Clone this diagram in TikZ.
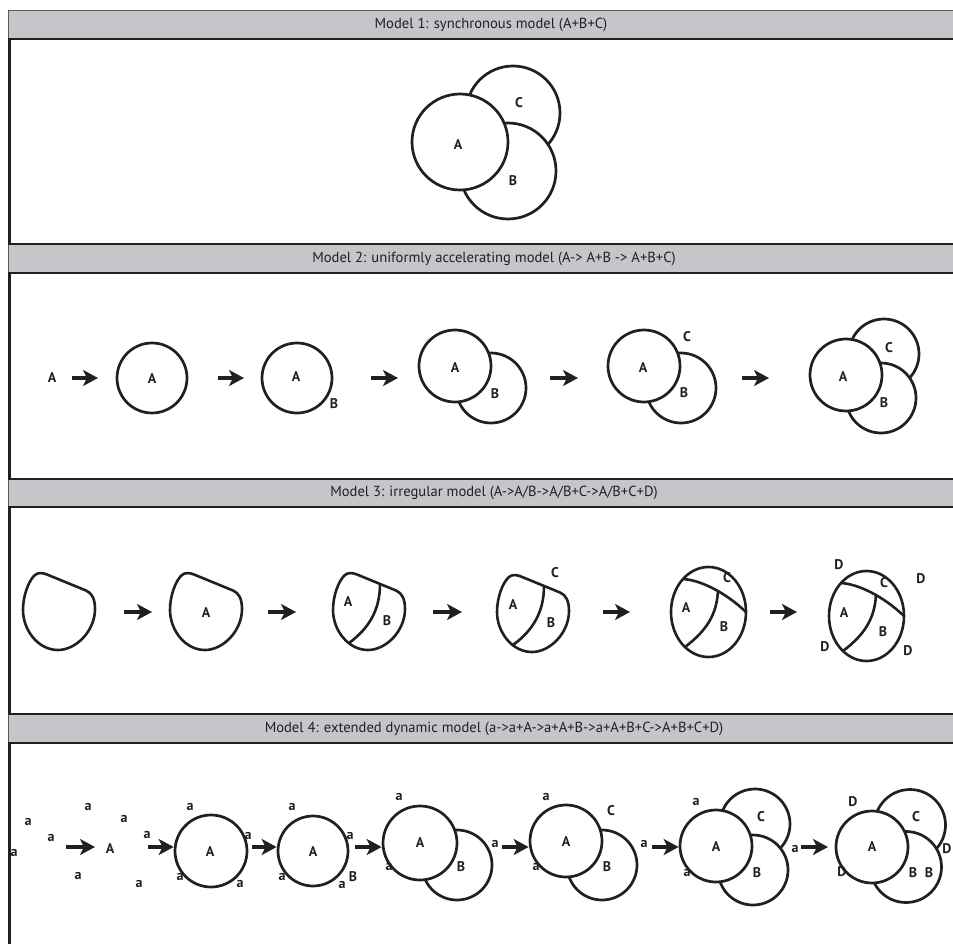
\documentclass[tikz,border=0pt]{standalone}
\usepackage{fontspec}
\setmainfont{PT Sans}
\usetikzlibrary{arrows.meta}
\definecolor{hdr}{HTML}{C5C6CA}
\definecolor{ink}{HTML}{231F20}
\tikzset{
  ring/.style={circle, draw=ink, line width=2.7pt, fill=white, inner sep=0pt},
  lbl/.style={font=\fontsize{14}{16}\selectfont\bfseries, text=ink, inner sep=0pt},
  hdrtext/.style={font=\fontsize{14.6}{16}\selectfont, text=ink, inner sep=0pt},
  arr/.style={draw=ink, line width=3.3pt, -{Stealth[length=15pt,width=16pt,inset=4pt]}},
  frameline/.style={draw=ink, line width=2.2pt},
  sideline/.style={draw=ink, line width=2.8pt},
  hdredge/.style={draw=ink!75, line width=0.9pt},
  blobline/.style={draw=ink, line width=2.6pt, fill=white, line join=round},
  divline/.style={draw=ink, line width=2.6pt},
  blob/.pic={\path[blobline] (24,1.5) -- (63,17.5) .. controls (69,20) and (72,26) .. (72,36) .. controls (72,58) and (53,77) .. (35,77) .. controls (15,77) and (0,57) .. (0,37) .. controls (0,22) and (6,7) .. (12,2) .. controls (15,-0.5) and (19,-0.5) .. (24,1.5) -- cycle;},
  blobsplit/.pic={\path[blobline] (24,1.5) -- (63,17.5) .. controls (69,20) and (72,26) .. (72,36) .. controls (72,58) and (53,77) .. (35,77) .. controls (15,77) and (0,57) .. (0,37) .. controls (0,22) and (6,7) .. (12,2) .. controls (15,-0.5) and (19,-0.5) .. (24,1.5) -- cycle;
    \draw[divline] (47,11) .. controls (47,38) and (35,56) .. (16,70);},
  blobcap/.pic={\path[blobline] (38.5,45) ellipse [x radius=37.5, y radius=45];
    \draw[divline] (13,12) .. controls (30,13) and (55,25) .. (76,45);
    \draw[divline] (48,23) .. controls (47,48) and (36,64) .. (15,80);},
}
\begin{document}
\begin{tikzpicture}[x=1pt,y=-1pt]
\useasboundingbox (0,0) rectangle (953,944);
\fill[white] (0,0) rectangle (953,944);

% header bands
\fill[hdr] (8,10) rectangle (953,39);
\fill[hdr] (8,244) rectangle (953,273);
\fill[hdr] (8,479) rectangle (953,507);
\fill[hdr] (8,714) rectangle (953,743);
\draw[hdredge] (8,10.4) -- (953,10.4);
\draw[hdredge] (8.5,10) -- (8.5,39) (8.5,244) -- (8.5,273) (8.5,479) -- (8.5,507) (8.5,714) -- (8.5,743);

\node[hdrtext] (h1) at (491,24.5) {Model 1: synchronous model (A+B+C)};
\node[hdrtext] (h2) at (494,258.5) {Model 2: uniformly accelerating model (A-> A+B -> A+B+C)};
\node[hdrtext] (h3) at (494,493) {Model 3: irregular model (A->A/B->A/B+C->A/B+C+D)};
\node[hdrtext] (h4) at (494,728.5) {Model 4: extended dynamic model (a->a+A->a+A+B->a+A+B+C->A+B+C+D)};

% ---------- Model 1 ----------
\node[ring, minimum size=94pt] (m1c) at (513,113) {};
\node[ring, minimum size=96pt] (m1b) at (508,171) {};
\node[ring, minimum size=96pt] (m1a) at (460,142) {};
\node[lbl] (m1la) at (458,145) {A};
\node[lbl] (m1lb) at (513,181) {B};
\node[lbl] (m1lc) at (519,103) {C};

% ---------- Model 2 ----------
\node[lbl] (m2l0) at (52,378) {A};
\coordinate (m2s1) at (72,378); \coordinate (m2e1) at (98,378);
\draw[arr] (m2s1) -- (m2e1);
\node[ring, minimum size=70pt] (m2c1) at (152,378) {};
\node[lbl] (m2l1) at (152,379) {A};
\coordinate (m2s2) at (218,378); \coordinate (m2e2) at (244,378);
\draw[arr] (m2s2) -- (m2e2);
\node[ring, minimum size=70pt] (m2c2) at (297,378) {};
\node[lbl] (m2l2) at (296,377) {A};
\node[lbl] (m2l2b) at (334,404) {B};
\coordinate (m2s3) at (371,378); \coordinate (m2e3) at (398,378);
\draw[arr] (m2s3) -- (m2e3);
\node[ring, minimum size=70pt] (m2c3b) at (491,388) {};
\node[ring, minimum size=72pt] (m2c3a) at (455,366) {};
\node[lbl] (m2l3a) at (455,368) {A};
\node[lbl] (m2l3b) at (495,394) {B};
\coordinate (m2s4) at (550,378); \coordinate (m2e4) at (578,378);
\draw[arr] (m2s4) -- (m2e4);
\node[ring, minimum size=70pt] (m2c4b) at (681,388) {};
\node[ring, minimum size=72pt] (m2c4a) at (644,366) {};
\node[lbl] (m2l4a) at (643,368) {A};
\node[lbl] (m2l4b) at (684,393) {B};
\node[lbl] (m2l4c) at (687,337) {C};
\coordinate (m2s5) at (742,378); \coordinate (m2e5) at (769,378);
\draw[arr] (m2s5) -- (m2e5);
\node[ring, minimum size=70pt] (m2c5c) at (884,354) {};
\node[ring, minimum size=70pt] (m2c5b) at (881,398) {};
\node[ring, minimum size=72pt] (m2c5a) at (846,375) {};
\node[lbl] (m2l5a) at (843,377) {A};
\node[lbl] (m2l5b) at (884,403) {B};
\node[lbl] (m2l5c) at (889,348) {C};

% ---------- Model 3 ----------
\pic at (23,573) {blob};
\coordinate (m3s1) at (124,612); \coordinate (m3e1) at (152,612);
\draw[arr] (m3s1) -- (m3e1);
\pic at (170,573) {blob};
\node[lbl] (m3l2a) at (206,613) {A};
\coordinate (m3s2) at (268,612); \coordinate (m3e2) at (296,612);
\draw[arr] (m3s2) -- (m3e2);
\pic at (333,573) {blobsplit};
\node[lbl] (m3l3a) at (348,602) {A};
\node[lbl] (m3l3b) at (387,621) {B};
\coordinate (m3s3) at (433,612); \coordinate (m3e3) at (462,612);
\draw[arr] (m3s3) -- (m3e3);
\pic at (497,575) {blobsplit};
\node[lbl] (m3l4a) at (513,605) {A};
\node[lbl] (m3l4b) at (551,623) {B};
\node[lbl] (m3l4c) at (555,573) {C};
\coordinate (m3s4) at (603,612); \coordinate (m3e4) at (630,612);
\draw[arr] (m3s4) -- (m3e4);
\pic at (670,567) {blobcap};
\node[lbl] (m3l5a) at (686,608) {A};
\node[lbl] (m3l5b) at (724,627) {B};
\node[lbl] (m3l5c) at (727,578) {C};
\coordinate (m3s5) at (770,612); \coordinate (m3e5) at (797,612);
\draw[arr] (m3s5) -- (m3e5);
\pic at (828,571) {blobcap};
\node[lbl] (m3l6a) at (844,613) {A};
\node[lbl] (m3l6b) at (883,632) {B};
\node[lbl] (m3l6c) at (884,583) {C};
\node[lbl] (m3l6d1) at (839,565) {D};
\node[lbl] (m3l6d2) at (921,579) {D};
\node[lbl] (m3l6d3) at (825,647) {D};
\node[lbl] (m3l6d4) at (908,651) {D};

% ---------- Model 4 ----------
\node[lbl] (m4f1) at (88,807) {a};
\node[lbl] (m4f2) at (28,822) {a};
\node[lbl] (m4f3) at (124,819) {a};
\node[lbl] (m4f4) at (51,838) {a};
\node[lbl] (m4f5) at (14,853) {a};
\node[lbl] (m4f6) at (78,876) {a};
\node[lbl] (m4f7) at (139,884) {a};
\coordinate (m4s1) at (66,847); \coordinate (m4e1) at (95,847);
\draw[arr] (m4s1) -- (m4e1);
\node[lbl] (m4l0) at (110,849) {A};

\node[lbl] (m4g0) at (147,835) {a};
\node[ring, minimum size=72pt] (m4c1) at (211,851) {};
\coordinate (m4s2) at (148,847);
\draw[arr] (m4s2) -- (m4c1.west |- m4s2);
\node[lbl] (m4l1) at (210,852) {A};
\node[lbl] (m4g1) at (190,807) {a};
\node[lbl] (m4g2) at (248,836) {a};
\node[lbl] (m4g3) at (180,877) {a};
\node[lbl] (m4g4) at (240,884) {a};

\node[ring, minimum size=70pt] (m4c2) at (313,851) {};
\coordinate (m4s3) at (252,847);
\draw[arr] (m4s3) -- (m4c2.west |- m4s3);
\node[lbl] (m4l2) at (313,852) {A};
\node[lbl] (m4h1) at (292,807) {a};
\node[lbl] (m4h2) at (350,836) {a};
\node[lbl] (m4h3) at (282,877) {a};
\node[lbl] (m4h4) at (342,885) {a};
\node[lbl] (m4l2b) at (353,877) {B};

\node[ring, minimum size=70pt] (m4c3b) at (457,865) {};
\node[ring, minimum size=74pt] (m4c3a) at (420,843) {};
\coordinate (m4s4) at (355,847);
\draw[arr] (m4s4) -- (m4c3a.west |- m4s4);
\node[lbl] (m4l3a) at (420,843) {A};
\node[lbl] (m4l3b) at (461,867) {B};
\node[lbl] (m4i1) at (399,797) {a};
\node[lbl] (m4i2) at (389,867) {a};

\node[lbl] (m4j0) at (495,844) {a};
\node[ring, minimum size=70pt] (m4c4b) at (602,865) {};
\node[ring, minimum size=72pt] (m4c4a) at (566,841) {};
\coordinate (m4s5) at (502,847);
\draw[arr] (m4s5) -- (m4c4a.west |- m4s5);
\node[lbl] (m4l4a) at (566,842) {A};
\node[lbl] (m4l4b) at (607,867) {B};
\node[lbl] (m4l4c) at (611,811) {C};
\node[lbl] (m4j1) at (546,797) {a};
\node[lbl] (m4j2) at (536,867) {a};

\node[lbl] (m4k0) at (644,844) {a};
\node[ring, minimum size=70pt] (m4c5c) at (755,824) {};
\node[ring, minimum size=70pt] (m4c5b) at (753,870) {};
\node[ring, minimum size=72pt] (m4c5a) at (716,846) {};
\coordinate (m4s6) at (652,847);
\draw[arr] (m4s6) -- (m4c5a.west |- m4s6);
\node[lbl] (m4l5a) at (716,847) {A};
\node[lbl] (m4l5b) at (757,873) {B};
\node[lbl] (m4l5c) at (761,817) {C};
\node[lbl] (m4k1) at (696,802) {a};
\node[lbl] (m4k2) at (687,873) {a};

\node[lbl] (m4m0) at (795,849) {a};
\node[ring, minimum size=71pt] (m4c6c) at (910,825) {};
\node[ring, minimum size=71pt] (m4c6b) at (906,867) {};
\node[ring, minimum size=72pt] (m4c6a) at (872,847) {};
\coordinate (m4s7) at (801,847); \coordinate (m4e7) at (828,847);
\draw[arr] (m4s7) -- (m4e7);
\node[lbl] (m4l6a) at (872,847) {A};
\node[lbl] (m4l6b1) at (913,873) {B};
\node[lbl] (m4l6b2) at (929,873) {B};
\node[lbl] (m4l6c) at (916,817) {C};
\node[lbl] (m4m1) at (853,802) {D};
\node[lbl] (m4m2) at (842,872) {D};
\node[lbl] (m4m3) at (947,849) {D};

% frame lines
\draw[frameline] (8,39) -- (953,39) (8,244) -- (953,244) (8,273) -- (953,273)
  (8,479) -- (953,479) (8,507) -- (953,507) (8,714) -- (953,714) (8,743) -- (953,743);
\draw[sideline] (9.6,39) -- (9.6,244) (9.6,273) -- (9.6,479) (9.6,507) -- (9.6,714) (9.6,743) -- (9.6,944);
\end{tikzpicture}
\end{document}
